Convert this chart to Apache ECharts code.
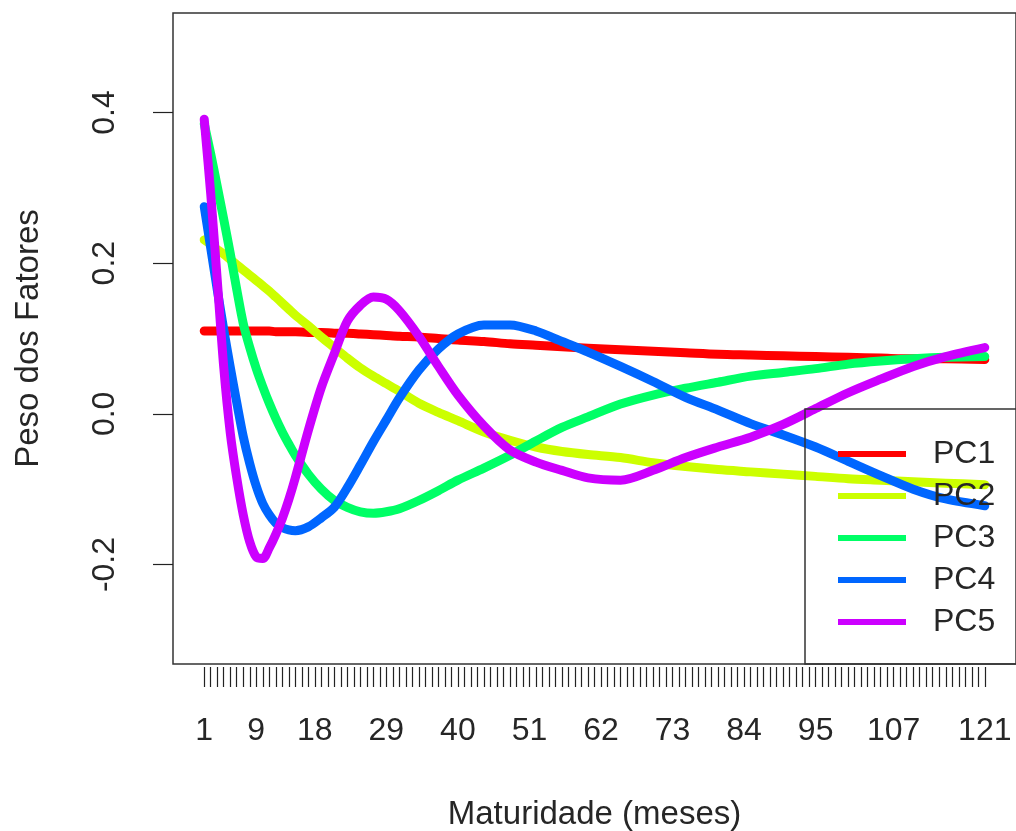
<!DOCTYPE html>
<html>
<head>
<meta charset="utf-8">
<title>Peso dos Fatores</title>
<script src="https://cdn.jsdelivr.net/npm/echarts@6/dist/echarts.min.js"></script>
<style>
  html, body { margin: 0; padding: 0; background: #fff; }
  #chart { width: 1016px; height: 831px; }
</style>
</head>
<body>
<div id="chart"></div>
<script>
// maturidade (meses) onde os pesos foram lidos
const maturity = [1, 2, 3, 4, 5, 6, 7, 8, 9, 10, 11, 12, 13, 14, 15, 17, 19, 21, 23, 25, 27, 29, 31, 34, 37, 40,
  44, 48, 52, 56, 60, 65, 70, 75, 80, 85, 90, 95, 100, 105, 110, 115, 121]

const pc1 = [0.110, 0.110, 0.110, 0.110, 0.110, 0.110, 0.110, 0.110, 0.110, 0.110, 0.110, 0.109, 0.109, 0.109, 0.109,
  0.108, 0.108, 0.107, 0.107, 0.106, 0.105, 0.104, 0.103, 0.102, 0.100, 0.098,
  0.096, 0.093, 0.091, 0.089, 0.087, 0.085, 0.083, 0.081, 0.079, 0.078, 0.077, 0.076, 0.075, 0.074, 0.073, 0.073, 0.072]
const pc2 = [0.231, 0.225, 0.218, 0.212, 0.205, 0.198, 0.191, 0.184, 0.177, 0.170, 0.163, 0.155, 0.147, 0.139, 0.131,
  0.117, 0.102, 0.088, 0.074, 0.061, 0.050, 0.040, 0.030, 0.014, 0.002, -0.009,
  -0.024, -0.035, -0.044, -0.050, -0.054, -0.058, -0.065, -0.070, -0.074, -0.077, -0.080, -0.083, -0.086, -0.088, -0.090, -0.092, -0.094]
const pc3 = [0.385, 0.345, 0.302, 0.258, 0.213, 0.165, 0.120, 0.088, 0.060, 0.036, 0.014, -0.006, -0.024, -0.040, -0.055,
  -0.080, -0.100, -0.115, -0.124, -0.130, -0.132, -0.130, -0.126, -0.115, -0.102, -0.088,
  -0.072, -0.055, -0.036, -0.018, -0.004, 0.013, 0.025, 0.034, 0.042, 0.050, 0.055, 0.060, 0.066, 0.070, 0.073, 0.075, 0.076]
const pc4 = [0.275, 0.220, 0.165, 0.112, 0.062, 0.015, -0.030, -0.066, -0.096, -0.119, -0.134, -0.145, -0.151, -0.154, -0.155,
  -0.150, -0.138, -0.124, -0.098, -0.068, -0.037, -0.008, 0.021, 0.058, 0.086, 0.106,
  0.118, 0.118, 0.110, 0.096, 0.082, 0.063, 0.043, 0.022, 0.005, -0.013, -0.028, -0.044, -0.063, -0.082, -0.100, -0.113, -0.122]
const pc5 = [0.391, 0.292, 0.178, 0.062, -0.025, -0.085, -0.134, -0.170, -0.190, -0.192, -0.178, -0.160, -0.139, -0.114, -0.085,
  -0.022, 0.035, 0.080, 0.123, 0.144, 0.155, 0.152, 0.137, 0.103, 0.063, 0.025,
  -0.016, -0.048, -0.064, -0.075, -0.085, -0.088, -0.075, -0.058, -0.044, -0.031, -0.014, 0.007, 0.028, 0.046, 0.063, 0.076, 0.088]

const seriesNames = ['PC1', 'PC2', 'PC3', 'PC4', 'PC5']
const seriesValues = [pc1, pc2, pc3, pc4, pc5]
const colors = ['#FF0000', '#CCFF00', '#00FF66', '#0066FF', '#CC00FF']

// rótulos do eixo x e do eixo y
const xLabels = [1, 9, 18, 29, 40, 51, 62, 73, 84, 95, 107, 121]
const yLabels = [-0.2, 0.0, 0.2, 0.4]

// um traço por mês
const xTicks = []
for (let m = 1; m <= 121; m++) xTicks.push(m)

const font = 'Liberation Sans, Arial, sans-serif'
const textColor = '#262626'

const chart = echarts.init(document.getElementById('chart'))

const option = {
  animation: false,
  backgroundColor: '#fff',
  color: colors,
  grid: {
    left: 173,
    right: 0,
    top: 13,
    bottom: 167,
    show: true,
    borderColor: '#333',
    borderWidth: 1.5,
    containLabel: false,
    outerBoundsMode: 'none'
  },
  legend: {
    orient: 'vertical',
    left: 838,
    top: 434,
    padding: 0,
    itemGap: 2,
    itemWidth: 68,
    itemHeight: 6,
    icon: 'rect',
    selectedMode: false,
    data: seriesNames,
    textStyle: {
      fontFamily: font,
      fontSize: 32,
      color: textColor,
      lineHeight: 40,
      padding: [0, 0, 0, 22]
    }
  },
  graphic: [
    {
      type: 'rect',
      z: 10,
      shape: { x: 805, y: 409, width: 300, height: 255 },
      style: { fill: 'none', stroke: '#333', lineWidth: 1.5 }
    }
  ],
  xAxis: {
    type: 'value',
    min: -3.8,
    max: 125.8,
    offset: 3,
    name: 'Maturidade (meses)',
    nameLocation: 'middle',
    nameGap: 131,
    nameTextStyle: { fontFamily: font, fontSize: 33, color: textColor },
    splitLine: { show: false },
    axisLine: { show: false, onZero: false },
    axisTick: {
      show: true,
      length: 20,
      customValues: xTicks,
      lineStyle: { color: '#222', width: 1.2 }
    },
    axisLabel: {
      customValues: xLabels,
      margin: 48,
      fontFamily: font,
      fontSize: 32,
      color: textColor
    }
  },
  yAxis: {
    type: 'value',
    min: -0.332,
    max: 0.532,
    name: 'Peso dos Fatores',
    nameLocation: 'middle',
    nameRotate: 90,
    nameGap: 128,
    nameTextStyle: { fontFamily: font, fontSize: 33, color: textColor },
    splitLine: { show: false },
    axisLine: { show: false, onZero: false },
    axisTick: {
      show: true,
      length: 20,
      customValues: yLabels,
      lineStyle: { color: '#222', width: 1.2 }
    },
    axisLabel: {
      customValues: yLabels,
      rotate: 90,
      margin: 52,
      fontFamily: font,
      fontSize: 32,
      color: textColor,
      formatter: v => v.toFixed(1)
    }
  },
  series: seriesNames.map((name, i) => ({
    name: name,
    type: 'line',
    data: maturity.map((m, j) => [m, seriesValues[i][j]]),
    showSymbol: false,
    symbol: 'none',
    smooth: 0.3,
    lineStyle: { width: 9, color: colors[i], cap: 'round', join: 'round' }
  }))
}

chart.setOption(option)
window.addEventListener('resize', () => chart.resize())
</script>
</body>
</html>
